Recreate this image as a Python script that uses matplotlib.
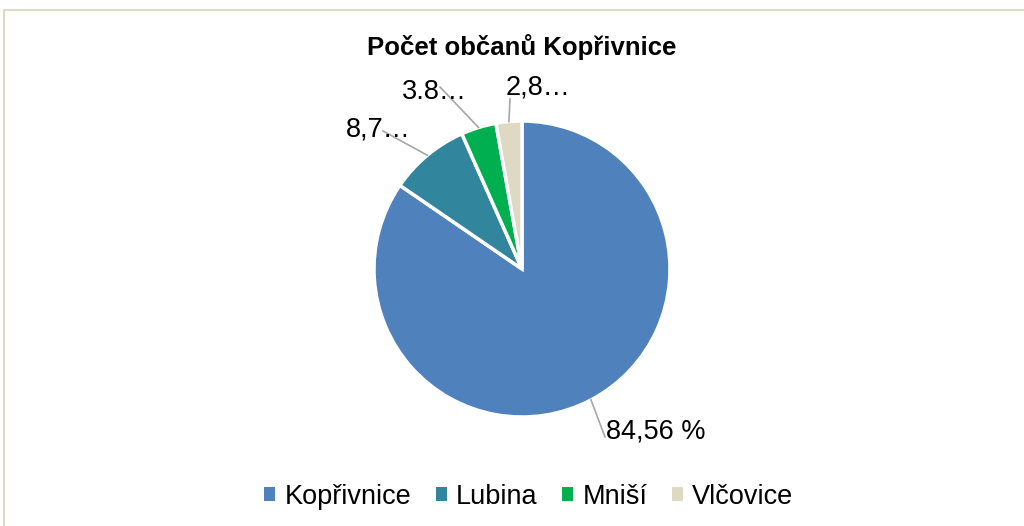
import numpy as np
import matplotlib.pyplot as plt
from matplotlib.patches import Rectangle, Patch

plt.rcParams['font.family'] = ['Liberation Sans', 'DejaVu Sans']

title = "Počet občanů Kopřivnice"
categories = ["Kopřivnice", "Lubina", "Mniší", "Vlčovice"]
shares = [84.56, 8.78, 3.84, 2.82]
label_texts = ["84,56 %", "8,7…", "3.8…", "2,8…"]
colors = ["#4F81BD", "#31859C", "#00B050", "#DDD9C3"]

W, H = 1024, 526
fig = plt.figure(figsize=(W / 100, H / 100), dpi=100)
ax = fig.add_axes([0, 0, 1, 1])

cx, cy, r = 522, H - 269, 148
wedges, _ = ax.pie(shares, colors=colors, startangle=90, counterclock=False,
                   center=(cx, cy), radius=r,
                   wedgeprops=dict(edgecolor="white", linewidth=2.5))
ax.set_xlim(0, W)
ax.set_ylim(0, H)
ax.set_aspect('equal')
ax.axis('off')

# outer frame
ax.add_patch(Rectangle((4, -20), W + 20, H - 10 + 20, fill=False,
                       edgecolor="#D9D4B8", linewidth=1.2, zorder=0))

ax.text(cx, H - 47, title, ha="center", va="center", fontsize=18.5,
        fontweight="bold", color="black")

# label positions (text anchor, leader end) in pixel coords
label_pos = [(606, H - 431, "left", 605, H - 437),
             (346, H - 130, "left", 383, H - 131),
             (402, H - 92, "left", 440, H - 87),
             (506, H - 87, "left", 510, H - 99)]
for w, txt, (tx, ty, ha, lx, ly) in zip(wedges, label_texts, label_pos):
    ang = np.deg2rad((w.theta1 + w.theta2) / 2)
    px, py = cx + r * np.cos(ang), cy + r * np.sin(ang)
    ax.plot([px, lx], [py, ly], color="#A6A6A6", linewidth=1.2, zorder=3)
    ax.text(tx, ty, txt, ha=ha, va="center", fontsize=19.5, color="black", zorder=4)

handles = [Patch(facecolor=c, edgecolor="none") for c in colors]
leg = fig.legend(handles, categories, loc="center", bbox_to_anchor=(529 / W, 1 - 497 / H),
                 ncol=4, frameon=False, fontsize=19.5, handlelength=0.4, handleheight=0.4,
                 handletextpad=0.35, columnspacing=0.9)

fig.savefig("out.png", dpi=100)
